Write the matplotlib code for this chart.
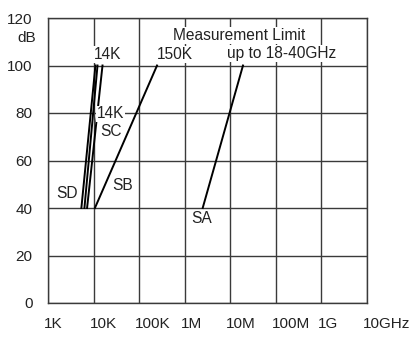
import numpy as np
import matplotlib.pyplot as plt
from matplotlib.transforms import ScaledTranslation

plt.rcParams["font.family"] = ["Liberation Sans", "DejaVu Sans"]

# frequency axis (Hz) and labels
x_ticks = [1e3, 1e4, 1e5, 1e6, 1e7, 1e8, 1e9, 1e10]
x_labels = ["1K", "10K", "100K", "1M", "10M", "100M", "1G", "10GHz"]
y_ticks = [0, 20, 40, 60, 80, 100, 120]

# lines: (start freq, start dB) -> (end freq, end dB)
sd_freq = [5.4e3, 11.0e3]
sd2_freq = [6.3e3, 12.2e3]
sc_freq = [7.2e3, 15.7e3]
sb_freq = [10.7e3, 247e3]
sa_freq = [2.48e6, 19.0e6]
line_db = [40, 100]

# annotations: text, freq, dB
labels = [
    ("14K", 10.2e3, 104.8),
    ("150K", 247e3, 104.8),
    ("Measurement Limit", 553e3, 112.6),
    ("up to 18-40GHz", 8.5e6, 105.0),
    ("14K", 11.9e3, 79.6),
    ("SC", 13.8e3, 72.0),
    ("SD", 1.5e3, 46.3),
    ("SB", 25.3e3, 49.3),
    ("SA", 1.37e6, 35.4),
]

fig = plt.figure(figsize=(4.17, 3.42), dpi=100)
ax = fig.add_axes([48 / 417, 39 / 342, 319 / 417, 285 / 342])

ax.set_xscale("log")
ax.set_xlim(1e3, 1e10)
ax.set_ylim(0, 120)
ax.set_xticks(x_ticks)
ax.set_xticklabels(x_labels)
ax.minorticks_off()
ax.set_yticks(y_ticks)
ax.tick_params(length=0, labelsize=11, colors="#222222")
ax.tick_params(axis="x", pad=10)
ax.tick_params(axis="y", pad=11)
ax.grid(True, color="#3a3a3a", linewidth=1.0)
ax.set_axisbelow(True)
for sp in ax.spines.values():
    sp.set_color("#3a3a3a")
    sp.set_linewidth(1.0)

# x labels sit just right of their grid line
shift = ScaledTranslation(-4 / 100, 0, fig.dpi_scale_trans)
for lab in ax.get_xticklabels():
    lab.set_horizontalalignment("left")
    lab.set_transform(lab.get_transform() + shift)

for f in [sd_freq, sd2_freq, sc_freq, sb_freq, sa_freq]:
    ax.plot(f, line_db, color="black", linewidth=1.4, zorder=2)

for txt, xf, yd in labels:
    ax.text(xf, yd, txt, fontsize=11.2, ha="left", va="center", color="#222222",
            zorder=4, bbox=dict(boxstyle="square,pad=0.06", fc="white", ec="none"))

ax.annotate("dB", xy=(0, 111.6), xycoords=("axes fraction", "data"),
            xytext=(-12, 0), textcoords="offset pixels",
            ha="right", va="center", fontsize=11, color="#222222")

fig.savefig("out.png", dpi=100, facecolor="white")
